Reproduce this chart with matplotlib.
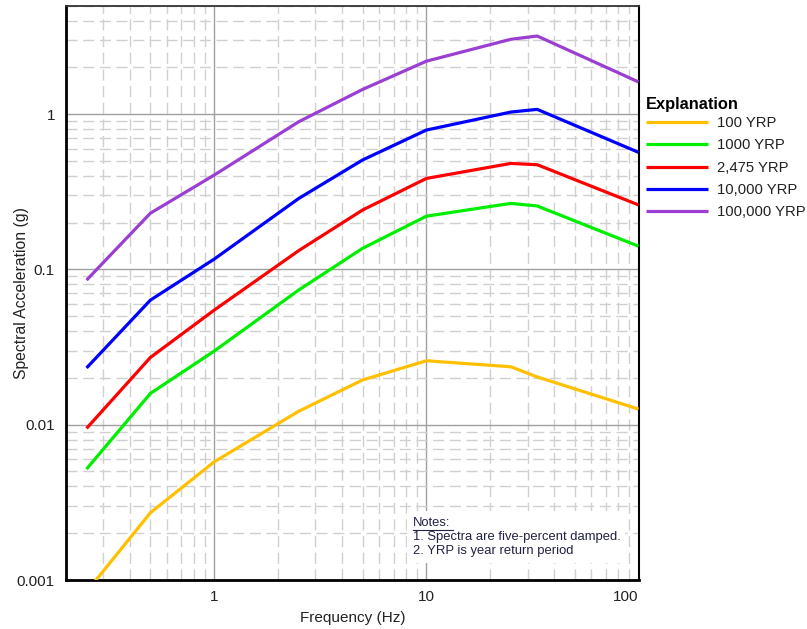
import matplotlib
matplotlib.use("Agg")
import matplotlib.pyplot as plt
from matplotlib.ticker import FixedLocator, FixedFormatter, LogLocator, NullFormatter

plt.rcParams['font.family'] = ['Liberation Sans', 'DejaVu Sans']

freq = [0.25, 0.5, 1.0, 2.5, 5.0, 10.0, 25.0, 33.3, 100.0]
sa_100 = [0.00084, 0.00271, 0.00577, 0.0122, 0.0194, 0.0258, 0.0236, 0.0203, 0.0126]
sa_1000 = [0.00518, 0.0159, 0.0298, 0.0736, 0.1365, 0.220, 0.266, 0.256, 0.141]
sa_2475 = [0.00947, 0.0271, 0.0547, 0.132, 0.241, 0.385, 0.481, 0.472, 0.260]
sa_10000 = [0.0232, 0.0634, 0.1165, 0.286, 0.506, 0.789, 1.03, 1.072, 0.567]
sa_100000 = [0.0853, 0.230, 0.405, 0.892, 1.44, 2.19, 3.03, 3.18, 1.61]

series = [
    ("100 YRP", sa_100, "#FFC000"),
    ("1000 YRP", sa_1000, "#00EE00"),
    ("2,475 YRP", sa_2475, "#FF0000"),
    ("10,000 YRP", sa_10000, "#0000FF"),
    ("100,000 YRP", sa_100000, "#9A3FD1"),
]

x_ticks = [1, 10, 100]
x_ticklabels = ["1", "10", "100"]
y_ticks = [0.001, 0.01, 0.1, 1]
y_ticklabels = ["0.001", "0.01", "0.1", "1"]

fig = plt.figure(figsize=(8.07, 6.29), dpi=100)
ax = fig.add_axes([66/807, 1 - 580/629, (638.5 - 66)/807, (580 - 5.5)/629])

for label, vals, col in series:
    ax.plot(freq, vals, color=col, lw=2.3, label=label, zorder=3, solid_capstyle='butt')

ax.set_xscale('log')
ax.set_yscale('log')
ax.set_xlim(0.2, 100)
ax.set_ylim(0.001, 5)

ax.xaxis.set_major_locator(FixedLocator(x_ticks))
ax.xaxis.set_major_formatter(FixedFormatter(x_ticklabels))
ax.yaxis.set_major_locator(FixedLocator(y_ticks))
ax.yaxis.set_major_formatter(FixedFormatter(y_ticklabels))
ax.xaxis.set_minor_locator(LogLocator(base=10, subs=range(2, 10), numticks=20))
ax.yaxis.set_minor_locator(LogLocator(base=10, subs=range(2, 10), numticks=20))
ax.xaxis.set_minor_formatter(NullFormatter())
ax.yaxis.set_minor_formatter(NullFormatter())

ax.tick_params(which='both', length=0)
ax.tick_params(axis='x', pad=7, labelsize=11, labelcolor='#222222')
ax.tick_params(axis='y', pad=8, labelsize=11, labelcolor='#222222')

ax.grid(which='minor', color='#d0d0d0', lw=1.0, linestyle=(0, (8, 4)), zorder=0)
ax.grid(which='major', color='#a0a0a0', lw=1.0, linestyle='-', zorder=1)
ax.set_axisbelow(True)

for lbl in ax.get_xticklabels():
    if lbl.get_text() == "100":
        lbl.set_horizontalalignment('right')
        lbl.set_x(100)

# spines
ax.spines['left'].set_color('black')
ax.spines['left'].set_linewidth(2)
ax.spines['bottom'].set_color('black')
ax.spines['bottom'].set_linewidth(2)
ax.spines['top'].set_color('#333333')
ax.spines['top'].set_linewidth(1.3)
ax.spines['right'].set_color('black')
ax.spines['right'].set_linewidth(1.5)

ax.set_xlabel("Frequency (Hz)", fontsize=11, color='#222222', labelpad=5)
ax.set_ylabel("Spectral Acceleration (g)", fontsize=11.3, color='#222222')
ax.yaxis.set_label_coords((29 - 66) / 572.5, 0.5)

leg = ax.legend(loc='upper left', bbox_to_anchor=(646/807, 1 - 97/629),
                bbox_transform=fig.transFigure, frameon=False,
                title="Explanation", alignment='left',
                fontsize=10.7, handlelength=4.2, handletextpad=0.6,
                labelspacing=0.56, borderpad=0, borderaxespad=0)
leg.get_title().set_fontweight('bold')
leg.get_title().set_fontsize(11.8)
leg._legend_box.sep = 3
for t in leg.get_texts():
    t.set_color('#222222')

# notes
fig.text(413/807, 1 - 523/629, "Notes:", fontsize=9.4, color='#222244',
         va='center', ha='left', zorder=5)
fig.add_artist(plt.Line2D([413/807, 453/807], [1 - 530/629, 1 - 530/629],
                          color='#222244', lw=0.8, transform=fig.transFigure))
ax.add_patch(plt.Rectangle((407/807, 1 - 563/629), (625 - 407)/807, (563 - 511)/629,
                           transform=fig.transFigure, facecolor='white',
                           edgecolor='none', zorder=2))
fig.text(413/807, 1 - 537/629, "1. Spectra are five-percent damped.", fontsize=9.4,
         color='#222244', va='center', ha='left', zorder=5)
fig.text(413/807, 1 - 551/629, "2. YRP is year return period", fontsize=9.4,
         color='#222244', va='center', ha='left', zorder=5)

fig.savefig("out.png", dpi=100)
